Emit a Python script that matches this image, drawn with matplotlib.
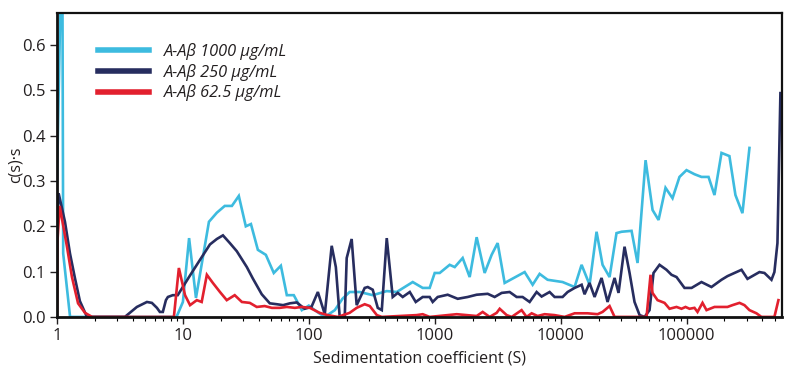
import numpy as np
import matplotlib
matplotlib.use('Agg')
import matplotlib.pyplot as plt
from matplotlib.ticker import LogLocator, FixedLocator, FixedFormatter, NullFormatter

# sedimentation coefficient (S) and c(s)*s
s_1000 = [1.0, 1.1, 1.12, 1.27, 8.9, 10.0, 11.2, 12.7, 16.1, 18.6, 21.5, 24.5, 27.8, 31.6,
          34.7, 39.4, 45.6, 52.7, 60, 66.9, 76, 88, 100, 118, 134, 161, 185, 211, 254, 322,
          416, 499, 669, 803, 912, 1000, 1096, 1315, 1442, 1668, 1896, 2154, 2493, 2832,
          3162, 3594, 5180, 5996, 6813, 7880, 10370, 12915, 14680, 16990, 19300, 21540,
          24480, 27800, 30500, 36600, 40850, 47300, 53750, 59980, 68130, 77440, 87940,
          100000, 115700, 131500, 149600, 166800, 189700, 219200, 244700, 278100, 316200]
c_1000 = [0.30, 0.90, 0.14, 0.0, 0.0, 0.033, 0.174, 0.042, 0.21, 0.23, 0.245, 0.245, 0.267,
          0.20, 0.205, 0.148, 0.137, 0.097, 0.113, 0.048, 0.048, 0.015, 0.025, 0.01, 0.0,
          0.015, 0.04, 0.055, 0.055, 0.048, 0.057, 0.055, 0.077, 0.064, 0.064, 0.097, 0.097,
          0.115, 0.11, 0.13, 0.088, 0.176, 0.097, 0.137, 0.163, 0.075, 0.099, 0.071, 0.095,
          0.082, 0.077, 0.066, 0.115, 0.071, 0.188, 0.115, 0.088, 0.185, 0.188, 0.19, 0.119,
          0.346, 0.236, 0.214, 0.285, 0.262, 0.309, 0.324, 0.315, 0.309, 0.309, 0.269, 0.362,
          0.355, 0.269, 0.229, 0.373]

s_250 = [1.0, 1.03, 1.157, 1.268, 1.39, 1.52, 1.73, 3.46, 4.31, 5.18, 5.67, 6.22, 6.56,
         6.93, 7.33, 7.6, 8.31, 9.1, 11.3, 13.6, 16.4, 18.6, 20.8, 23.6, 26.8, 32.2, 35.9,
         42.3, 49, 55.7, 62.5, 70.8, 80.2, 92.7, 105, 118, 134, 152, 164, 176, 193, 200,
         219, 240, 278, 294, 322, 353, 380, 416, 464, 509, 557, 634, 707, 803, 912, 964,
         1056, 1268, 1523, 1828, 2154, 2636, 2993, 3404, 3937, 4475, 4990, 5675, 6450,
         7065, 8180, 8960, 10370, 11370, 12920, 14690, 15500, 16980, 18620, 21150, 23600,
         26840, 28850, 32200, 35300, 38650, 42400, 46450, 50850, 54700, 61050, 69350,
         76000, 83300, 96400, 109700, 131500, 157800, 189600, 211500, 240300, 273500,
         305000, 379600, 416000, 473000, 499000, 527600, 557000]
c_250 = [0.19, 0.273, 0.21, 0.14, 0.085, 0.035, 0.0, 0.0, 0.022, 0.033, 0.031, 0.02, 0.011,
         0.011, 0.037, 0.044, 0.048, 0.048, 0.09, 0.125, 0.16, 0.172, 0.18, 0.163, 0.145,
         0.11, 0.085, 0.05, 0.03, 0.028, 0.026, 0.03, 0.032, 0.018, 0.022, 0.055, 0.006,
         0.157, 0.11, 0.0, 0.0, 0.13, 0.172, 0.026, 0.064, 0.066, 0.06, 0.02, 0.015, 0.174,
         0.044, 0.053, 0.044, 0.055, 0.033, 0.044, 0.044, 0.033, 0.044, 0.049, 0.04, 0.044,
         0.049, 0.051, 0.044, 0.053, 0.055, 0.044, 0.044, 0.033, 0.055, 0.045, 0.055, 0.044,
         0.044, 0.055, 0.064, 0.071, 0.05, 0.075, 0.044, 0.086, 0.033, 0.086, 0.053, 0.155,
         0.097, 0.033, 0.004, 0.0, 0.015, 0.097, 0.115, 0.104, 0.093, 0.088, 0.064, 0.064,
         0.077, 0.066, 0.082, 0.09, 0.097, 0.104, 0.084, 0.099, 0.097, 0.082, 0.099, 0.163,
         0.494]

s_625 = [1.0, 1.01, 1.05, 1.2, 1.315, 1.47, 1.67, 1.9, 8.48, 9.29, 10.4, 11.4, 12.9, 14.1,
         15.5, 17.3, 19.7, 22.3, 25.8, 29.4, 34.0, 38.6, 44.6, 50.9, 58.7, 66.9, 77.5, 88,
         102, 122, 141, 170, 211, 240, 278, 305, 347, 380, 719, 803, 912, 1496, 2154, 2404,
         2733, 3105, 3283, 3728, 4086, 4900, 5370, 5890, 6570, 7460, 8960, 10760, 12920,
         16370, 19660, 21540, 24480, 26840, 48160, 51800, 53700, 58900, 66900, 73300, 83300,
         91300, 98200, 105700, 115700, 122300, 134000, 144200, 166800, 189700, 211500,
         231800, 263600, 288500, 316200, 359400, 393700, 499000, 537000]
c_625 = [0.0, 0.17, 0.245, 0.155, 0.088, 0.03, 0.009, 0.0, 0.0, 0.108, 0.048, 0.026, 0.037,
         0.033, 0.093, 0.075, 0.055, 0.037, 0.048, 0.033, 0.031, 0.022, 0.024, 0.02, 0.02,
         0.022, 0.02, 0.022, 0.02, 0.009, 0.004, 0.0, 0.009, 0.02, 0.028, 0.024, 0.004, 0.0,
         0.004, 0.006, 0.0, 0.006, 0.002, 0.011, 0.0, 0.009, 0.018, 0.004, 0.0, 0.015, 0.0,
         0.008, 0.002, 0.006, 0.004, 0.0, 0.008, 0.008, 0.006, 0.011, 0.024, 0.0, 0.0, 0.093,
         0.053, 0.037, 0.031, 0.018, 0.022, 0.018, 0.022, 0.018, 0.02, 0.011, 0.031, 0.015,
         0.022, 0.022, 0.022, 0.026, 0.031, 0.026, 0.015, 0.008, 0.0, 0.0, 0.037]

labels = ['A-A\u03b2 1000 \u00b5g/mL', 'A-A\u03b2 250 \u00b5g/mL', 'A-A\u03b2 62.5 \u00b5g/mL']
colors = ['#3dbbdf', '#272d5f', '#e2202e']

xticks = [1, 10, 100, 1000, 10000, 100000]
yticks = [0.0, 0.1, 0.2, 0.3, 0.4, 0.5, 0.6]

plt.rcParams['font.family'] = ['Open Sans', 'DejaVu Sans']

fig = plt.figure(figsize=(7.96, 3.8), dpi=100)
ax = fig.add_axes([0.0716, 0.166, 0.9104, 0.80])

series = [(s_1000, c_1000), (s_250, c_250), (s_625, c_625)]
for (s, c), col, lab in zip(series, colors, labels):
    ax.plot(s, c, color=col, lw=1.9, label=lab, solid_joinstyle='miter')

ax.set_xscale('log')
ax.set_xlim(1, 5.7e5)
ax.set_ylim(0, 0.671)

ax.xaxis.set_major_locator(FixedLocator(xticks))
ax.xaxis.set_major_formatter(FixedFormatter([str(t) for t in xticks]))
ax.xaxis.set_minor_locator(LogLocator(base=10, subs=np.arange(2, 10)))
ax.xaxis.set_minor_formatter(NullFormatter())
ax.set_yticks(yticks)
ax.set_yticklabels(['%.1f' % t for t in yticks])

ax.tick_params(axis='both', which='major', direction='out', length=5, width=1,
               labelsize=12, colors='#231f20', pad=3)
ax.tick_params(axis='x', which='minor', direction='out', length=3, width=0.8)
ax.tick_params(top=False, right=False, which='both')

for side in ['left', 'bottom', 'top', 'right']:
    ax.spines[side].set_color('#111111')
    ax.spines[side].set_linewidth(1.6)
ax.spines['left'].set_linewidth(2)
ax.spines['bottom'].set_linewidth(2)

ax.set_xlabel('Sedimentation coefficient (S)', fontsize=11.5, color='#231f20', labelpad=5)
ax.set_ylabel('c(s)\u00b7s', fontsize=11.5, color='#231f20', labelpad=-1)

leg = ax.legend(loc='upper left', bbox_to_anchor=(0.043, 0.933), frameon=False,
                handlelength=3.1, handletextpad=0.9, labelspacing=0.22,
                borderaxespad=0.2, prop={'style': 'italic', 'size': 11.8})
for line in leg.get_lines():
    line.set_linewidth(4)
for t in leg.get_texts():
    t.set_color('#231f20')

plt.savefig('out.png', dpi=100)
